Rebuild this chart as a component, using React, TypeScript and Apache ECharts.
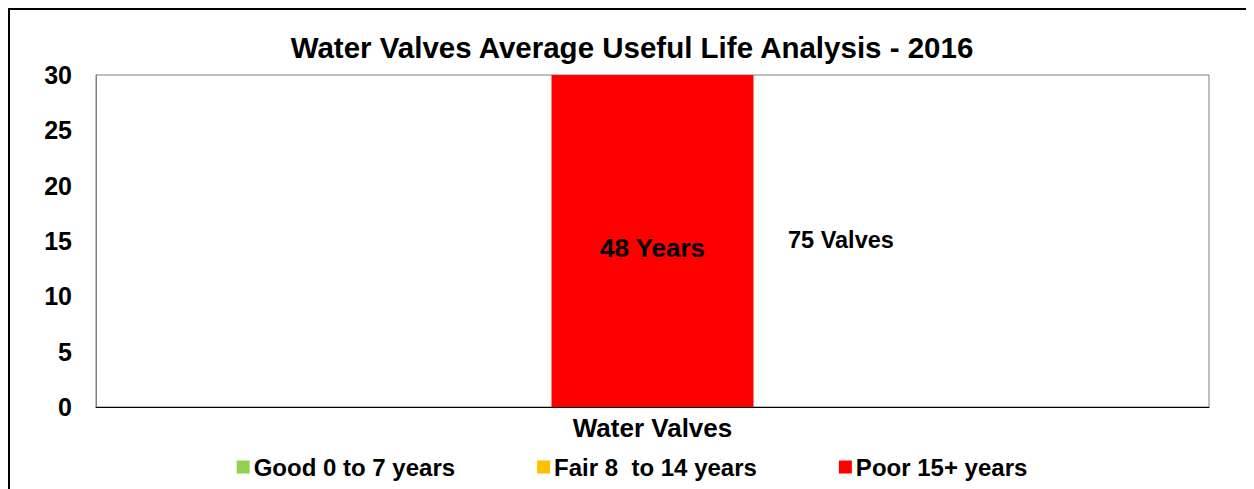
import React, { useEffect, useRef } from "react";
import * as echarts from "echarts";

const categories = ["Water Valves"];
const seriesNames = ["Good 0 to 7 years", "Fair 8\u00a0 to 14 years", "Poor 15+ years"];
const goodYears = [0];
const fairYears = [0];
const poorYears = [48];
const valveCount = 75;
const yTicks = [0, 5, 10, 15, 20, 25, 30];
const colors = ["#92D050", "#FFC000", "#FF0000"];

const FONT = "'Liberation Sans', Arial, sans-serif";

export default function App() {
  const ref = useRef<HTMLDivElement>(null);
  useEffect(() => {
    if (!ref.current) return;
    const chart = echarts.init(ref.current, undefined, { renderer: "svg" });
    const yMax = yTicks[yTicks.length - 1];
    const clip = (arr: number[]) => arr.map((v) => Math.min(v, yMax));
    chart.setOption({
      animation: false,
      backgroundColor: "#ffffff",
      textStyle: { fontFamily: FONT },
      title: {
        text: "Water Valves Average Useful Life Analysis - 2016",
        left: "center",
        top: 17,
        textStyle: { fontFamily: FONT, fontSize: 29.5, fontWeight: "bold", color: "#000" },
      },
      legend: {
        data: seriesNames,
        top: 440,
        left: "center",
        itemWidth: 13,
        itemHeight: 13,
        itemGap: 82,
        icon: "rect",
        textStyle: { fontFamily: FONT, fontSize: 24, fontWeight: "bold", color: "#000", padding: [0, 0, 0, -1] },
      },
      grid: {
        left: 86,
        top: 65,
        right: 45,
        bottom: 82,
        show: true,
        borderColor: "#7f7f7f",
        borderWidth: 1,
        backgroundColor: "#fff",
      },
      xAxis: {
        type: "category",
        data: categories,
        axisTick: { show: false },
        axisLine: { show: true, lineStyle: { color: "#000", width: 1 } },
        axisLabel: { margin: 8, fontFamily: FONT, fontSize: 26, fontWeight: "bold", color: "#000" },
      },
      yAxis: {
        type: "value",
        min: yTicks[0],
        max: yMax,
        interval: yTicks[1] - yTicks[0],
        splitLine: { show: false },
        axisTick: { show: false },
        axisLine: { show: true, lineStyle: { color: "#7f7f7f" } },
        axisLabel: { margin: 24, fontFamily: FONT, fontSize: 25, fontWeight: "bold", color: "#000" },
      },
      series: [
        { name: seriesNames[0], type: "bar", stack: "life", data: clip(goodYears), barWidth: 202, itemStyle: { color: colors[0] } },
        { name: seriesNames[1], type: "bar", stack: "life", data: clip(fairYears), barWidth: 202, itemStyle: { color: colors[1] } },
        {
          name: seriesNames[2],
          type: "bar",
          stack: "life",
          data: clip(poorYears),
          barWidth: 202,
          itemStyle: { color: colors[2] },
          label: {
            show: true,
            position: "inside",
            offset: [0, 7],
            formatter: (p: any) => `${poorYears[p.dataIndex]} Years`,
            fontFamily: FONT,
            fontSize: 26,
            fontWeight: "bold",
            color: "#000",
          },
        },
      ],
      graphic: [
        {
          type: "text",
          left: 778,
          top: 218,
          style: {
            text: `${valveCount} Valves`,
            font: `bold 23.5px ${FONT}`,
            fill: "#000",
          },
        },
      ],
    });
    return () => chart.dispose();
  }, []);
  return (
    <div
      style={{
        width: 1246,
        height: 481,
        boxSizing: "border-box",
        borderTop: "2px solid #000",
        borderLeft: "2px solid #000",
        overflow: "hidden",
      }}
    >
      <div ref={ref} style={{ width: 1244, height: 479 }} />
    </div>
  );
}
